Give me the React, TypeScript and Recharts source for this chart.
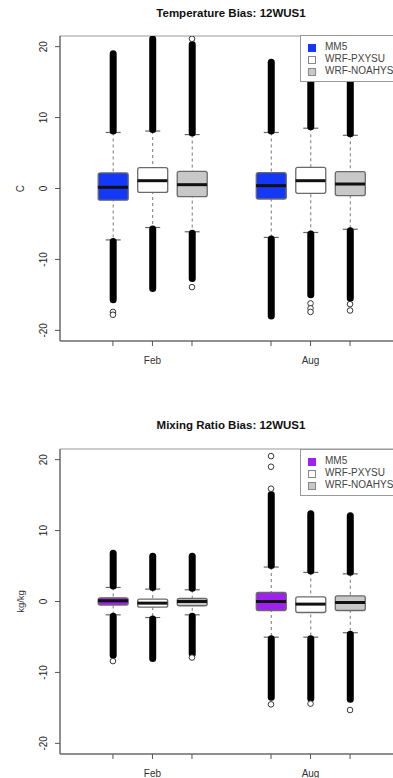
import React from 'react';
import { ComposedChart, Bar, Scatter, XAxis, YAxis, ReferenceArea, Legend } from 'recharts';

// ---- shared categories ----
const positions = [1, 2, 3, 5, 6, 7];
const xTickValues = [1, 2, 3, 5, 6, 7];
const xTickLabels: Record<number, string> = { 2: 'Feb', 6: 'Aug' };
const yTicks = [-20, -10, 0, 10, 20];
const legendLabels = ['MM5', 'WRF-PXYSU', 'WRF-NOAHYSU'];

// ---- Temperature Bias (C) ----
const tempQ1 = [-1.65, -0.56, -1.15, -1.48, -0.68, -1.0];
const tempMedian = [0.17, 1.1, 0.54, 0.4, 1.1, 0.63];
const tempQ3 = [2.2, 2.93, 2.42, 2.23, 2.98, 2.37];
const tempWhiskLo = [-7.25, -5.5, -6.1, -6.9, -6.2, -5.75];
const tempWhiskHi = [7.9, 8.1, 7.6, 7.9, 8.5, 7.5];
const tempOutMin = [-15.9, -14.3, -12.9, -18.2, -15.2, -15.7];
const tempOutMax = [19.2, 21.3, 20.5, 18.0, 18.0, 18.0];
const tempLoneX = [1, 1, 3, 3, 6, 6, 6, 7, 7];
const tempLoneY = [-17.4, -17.8, -13.9, 21.1, -16.2, -16.9, -17.4, -16.3, -17.2];
const tempColors = ['#1438F5', '#FFFFFF', '#C8C8C8'];

// ---- Mixing Ratio Bias (kg/kg) ----
const mixQ1 = [-0.51, -0.8, -0.6, -1.27, -1.55, -1.27];
const mixMedian = [0.1, -0.23, 0.0, 0.0, -0.37, -0.14];
const mixQ3 = [0.52, 0.34, 0.42, 1.27, 0.66, 0.8];
const mixWhiskLo = [-1.88, -2.26, -1.88, -5.03, -5.03, -4.4];
const mixWhiskHi = [1.98, 1.75, 1.65, 4.86, 4.1, 3.9];
const mixOutMin = [-7.8, -8.25, -7.6, -13.7, -13.9, -14.0];
const mixOutMax = [7.0, 6.6, 6.6, 15.3, 12.6, 12.3];
const mixLoneX = [1, 3, 5, 5, 5, 5, 6, 7];
const mixLoneY = [-8.4, -7.9, 15.9, 19.0, 20.5, -14.5, -14.4, -15.3];
const mixColors = ['#A020F0', '#FFFFFF', '#C8C8C8'];

const FONT = '"Liberation Sans", Arial, sans-serif';

function buildRows(q1: number[], med: number[], q3: number[], wlo: number[], whi: number[], omin: number[], omax: number[], colors: string[]) {
  return positions.map((p, i) => ({
    x: p,
    box: [q1[i], q3[i]],
    med: med[i],
    whisk: [wlo[i], whi[i]],
    outHi: [whi[i], omax[i]],
    outLo: [omin[i], wlo[i]],
    fill: colors[i % 3],
  }));
}

function buildLone(xs: number[], ys: number[]) {
  return xs.map((x, i) => ({ x, y: ys[i] }));
}

const norm = (y: number, h: number) => ({ top: Math.min(y, y + h), h: Math.abs(h) });

const BoxShape = (props: any) => {
  const { x, y, width, height, payload } = props;
  const { top, h } = norm(y, height);
  return <rect x={x} y={top} width={width} height={h} rx={2} fill={payload.fill} stroke="#6a6a6a" strokeWidth={1.3} />;
};

const WhiskerShape = (props: any) => {
  const { x, y, width, height } = props;
  const { top, h } = norm(y, height);
  const cx = x + width / 2;
  return (
    <g>
      <line x1={cx} x2={cx} y1={top} y2={top + h} stroke="#777" strokeWidth={1} strokeDasharray="3 3" />
      <line x1={cx - 7.5} x2={cx + 7.5} y1={top} y2={top} stroke="#666" strokeWidth={1.2} />
      <line x1={cx - 7.5} x2={cx + 7.5} y1={top + h} y2={top + h} stroke="#666" strokeWidth={1.2} />
    </g>
  );
};

const OutlierShape = (props: any) => {
  const { x, y, width, height } = props;
  const { top, h } = norm(y, height);
  const cx = x + width / 2;
  return <rect x={cx - 3.5} y={top - 2} width={7} height={h + 4} rx={3.5} fill="#000" />;
};

const MedianShape = (props: any) => {
  const { cx, cy } = props;
  return <line x1={cx - 15} x2={cx + 15} y1={cy} y2={cy} stroke="#111" strokeWidth={3} />;
};

const LoneShape = (props: any) => {
  const { cx, cy } = props;
  return <circle cx={cx} cy={cy} r={2.8} fill="#fff" stroke="#222" strokeWidth={0.9} />;
};

const YTick = (props: any) => {
  const { y, payload } = props;
  const bx = 47;
  return (
    <text x={bx} y={y} transform={`rotate(-90 ${bx} ${y})`} textAnchor="middle" fontSize={10} fill="#222" fontFamily={FONT}>
      {payload.value}
    </text>
  );
};

const XTick = (props: any) => {
  const { x, y, payload } = props;
  const label = xTickLabels[payload.value] || '';
  return (
    <text x={x} y={y + 17.5} textAnchor="middle" fontSize={10} fill="#333" fontFamily={FONT}>
      {label}
    </text>
  );
};

const makeYLabel = (text: string, size: number) => (props: any) => {
  const { viewBox } = props;
  const cy = viewBox.y + viewBox.height / 2;
  const bx = 23.5;
  return (
    <text x={bx} y={cy} transform={`rotate(-90 ${bx} ${cy})`} textAnchor="middle" fontSize={size} fill="#333" fontFamily={FONT}>
      {text}
    </text>
  );
};

const makeLegend = (colors: string[]) => () => (
  <div style={{ position: 'relative', width: 110, height: 47, background: '#fff', border: '1px solid #999', boxSizing: 'border-box', fontFamily: FONT, fontSize: 10, color: '#444' }}>
    {legendLabels.map((lab, i) => (
      <div key={lab} style={{ position: 'absolute', left: 0, top: 5 + i * 12, height: 12, lineHeight: '12px', whiteSpace: 'nowrap' }}>
        <span style={{ position: 'absolute', left: 7, top: 3, width: 6, height: 6, background: colors[i], border: `1px solid ${i === 0 ? colors[0] : '#888'}` }} />
        <span style={{ position: 'absolute', left: 24, top: 0 }}>{lab}</span>
      </div>
    ))}
  </div>
);

const DOMAIN_X: [number, number] = [-0.34, 8.34];
const DOMAIN_Y: [number, number] = [-21.5, 21.5];

function Panel(props: { rows: any[]; lone: any[]; colors: string[]; yLabel: string; yLabelSize: number; marginTop: number; marginBottom: number; legendTop: number }) {
  const { rows, lone, colors, yLabel, yLabelSize, marginTop, marginBottom, legendTop } = props;
  return (
    <ComposedChart width={420} height={389} data={rows} margin={{ top: marginTop, right: 17, bottom: marginBottom, left: 0 }}>
      <XAxis xAxisId={0} dataKey="x" type="number" domain={DOMAIN_X} ticks={xTickValues} allowDataOverflow interval={0}
        tick={<XTick />} tickSize={5} tickMargin={0} height={20} stroke="#555" tickLine={{ stroke: '#555' }} />
      <XAxis xAxisId="w" dataKey="x" type="number" domain={DOMAIN_X} allowDataOverflow hide />
      <XAxis xAxisId="oh" dataKey="x" type="number" domain={DOMAIN_X} allowDataOverflow hide />
      <XAxis xAxisId="ol" dataKey="x" type="number" domain={DOMAIN_X} allowDataOverflow hide />
      <XAxis xAxisId="b" dataKey="x" type="number" domain={DOMAIN_X} allowDataOverflow hide />
      <YAxis type="number" domain={DOMAIN_Y} ticks={yTicks} allowDataOverflow interval={0} width={60}
        tick={<YTick />} tickSize={5} stroke="#555" tickLine={{ stroke: '#555' }}
        label={{ content: makeYLabel(yLabel, yLabelSize) } as any} />
      <ReferenceArea xAxisId={0} x1={DOMAIN_X[0]} x2={DOMAIN_X[1]} y1={DOMAIN_Y[0]} y2={DOMAIN_Y[1]} fill="none" fillOpacity={0} stroke="#999" strokeWidth={1} ifOverflow="visible" />
      <Bar xAxisId="w" dataKey="whisk" barSize={30} shape={<WhiskerShape />} isAnimationActive={false} />
      <Bar xAxisId="oh" dataKey="outHi" barSize={30} shape={<OutlierShape />} isAnimationActive={false} />
      <Bar xAxisId="ol" dataKey="outLo" barSize={30} shape={<OutlierShape />} isAnimationActive={false} />
      <Bar xAxisId="b" dataKey="box" barSize={30} shape={<BoxShape />} isAnimationActive={false} />
      <Scatter xAxisId={0} dataKey="med" shape={<MedianShape />} isAnimationActive={false} />
      <Scatter xAxisId={0} data={lone} dataKey="y" shape={<LoneShape />} isAnimationActive={false} />
      <Legend layout="vertical" align="center" verticalAlign="middle" content={makeLegend(colors)}
        wrapperStyle={{ position: 'absolute', left: 300, top: legendTop, width: 110, height: 47, margin: 0 }} />
    </ComposedChart>
  );
}

const titleStyle = (top: number): React.CSSProperties => ({
  position: 'absolute', left: 0, width: 462, top, textAlign: 'center', fontFamily: FONT, fontWeight: 'bold', fontSize: 11.5, color: '#111', lineHeight: '14px',
});

export default function App() {
  const tempRows = buildRows(tempQ1, tempMedian, tempQ3, tempWhiskLo, tempWhiskHi, tempOutMin, tempOutMax, tempColors);
  const mixRows = buildRows(mixQ1, mixMedian, mixQ3, mixWhiskLo, mixWhiskHi, mixOutMin, mixOutMax, mixColors);
  return (
    <div style={{ position: 'absolute', left: 0, top: 0, width: 393, height: 778, overflow: 'hidden', background: '#fff' }}>
      <div style={{ position: 'absolute', left: 0, top: 0 }}>
        <Panel rows={tempRows} lone={buildLone(tempLoneX, tempLoneY)} colors={tempColors} yLabel="C" yLabelSize={10}
          marginTop={36} marginBottom={28} legendTop={35} />
      </div>
      <div style={titleStyle(6)}>Temperature Bias: 12WUS1</div>
      <div style={{ position: 'absolute', left: 0, top: 389 }}>
        <Panel rows={mixRows} lone={buildLone(mixLoneX, mixLoneY)} colors={mixColors} yLabel="kg/kg" yLabelSize={9.5}
          marginTop={60} marginBottom={4} legendTop={60} />
      </div>
      <div style={titleStyle(418)}>Mixing Ratio Bias: 12WUS1</div>
    </div>
  );
}
